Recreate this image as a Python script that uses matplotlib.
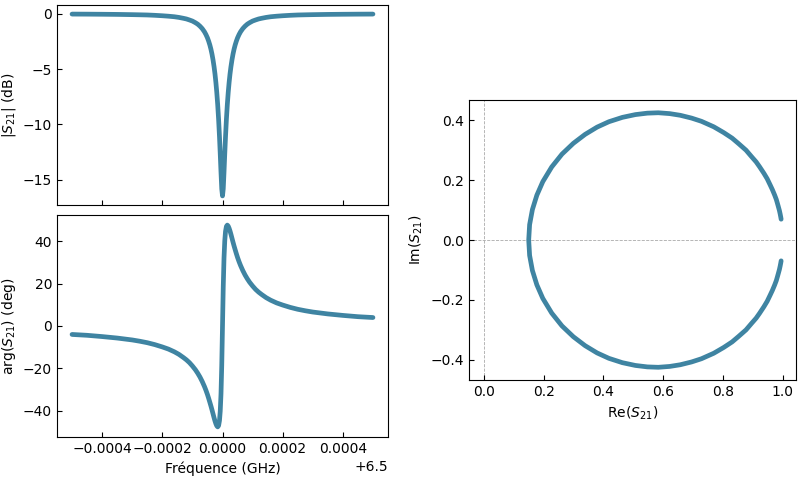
import numpy as np
import matplotlib
matplotlib.use("Agg")
import matplotlib.pyplot as plt

# Frequency offsets from 6.5 GHz, in kHz
offset_khz = [-500, -450, -400, -350, -300, -275, -250, -225, -200, -180, -160,
              -145, -130, -120, -110, -100, -90, -82.5, -75, -67.5, -60, -55, -50,
              -46, -42, -38.5, -35, -31.5, -28, -25, -22, -19, -16, -13, -10,
              -7.5, -5, -2.5,
              0,
              2.5, 5, 7.5, 10, 13, 16, 19, 22, 25, 28, 31.5, 35, 38.5, 42, 46,
              50, 55, 60, 67.5, 75, 82.5, 90, 100, 110, 120, 130, 145, 160, 180,
              200, 225, 250, 275, 300, 350, 400, 450, 500]

# |S21| in dB
mag_db = [-0.029, -0.035, -0.045, -0.058, -0.08, -0.094, -0.11, -0.14, -0.18,
          -0.22, -0.27, -0.33, -0.41, -0.47, -0.56, -0.66, -0.81, -0.94, -1.12,
          -1.34, -1.63, -1.88, -2.18, -2.48, -2.83, -3.20, -3.64, -4.17, -4.80,
          -5.44, -6.21, -7.12, -8.22, -9.54, -11.14, -12.69, -14.35, -15.84,
          -16.48,
          -15.84, -14.35, -12.69, -11.14, -9.54, -8.22, -7.12, -6.21, -5.44,
          -4.80, -4.17, -3.64, -3.20, -2.83, -2.48, -2.18, -1.88, -1.63, -1.34,
          -1.12, -0.94, -0.81, -0.66, -0.56, -0.47, -0.41, -0.33, -0.27, -0.22,
          -0.18, -0.14, -0.11, -0.094, -0.08, -0.058, -0.045, -0.035, -0.029]

# arg(S21) in degrees
phase_deg = [-4.0, -4.4, -5.0, -5.7, -6.6, -7.2, -7.9, -8.8, -9.9, -10.9, -12.2,
             -13.4, -14.9, -16.0, -17.3, -18.9, -20.7, -22.3, -24.1, -26.2,
             -28.6, -30.4, -32.4, -34.2, -36.1, -37.8, -39.6, -41.5, -43.4,
             -44.9, -46.2, -47.2, -47.7, -47.1, -44.7, -40.2, -32.1, -18.6,
             0.0,
             18.6, 32.1, 40.2, 44.7, 47.1, 47.7, 47.2, 46.2, 44.9, 43.4, 41.5,
             39.6, 37.8, 36.1, 34.2, 32.4, 30.4, 28.6, 26.2, 24.1, 22.3, 20.7,
             18.9, 17.3, 16.0, 14.9, 13.4, 12.2, 10.9, 9.9, 8.8, 7.9, 7.2, 6.6,
             5.7, 5.0, 4.4, 4.0]

f0_ghz = 6.5
freq_ghz = f0_ghz + np.array(offset_khz) * 1e-6

# Complex S21 from the magnitude / phase read above (polar -> cartesian)
amp = 10 ** (np.array(mag_db) / 20.0)
ang = np.deg2rad(phase_deg)
re_s21 = amp * np.cos(ang)
im_s21 = amp * np.sin(ang)

color = '#3f84a2'
lw = 3.4

fig = plt.figure(figsize=(8, 4.8), dpi=100)
ax1 = fig.add_axes([0.07125, 0.5729, 0.41375, 0.4167])
ax2 = fig.add_axes([0.07125, 0.0896, 0.41375, 0.4625], sharex=ax1)
ax3 = fig.add_axes([0.58625, 0.2083, 0.40875, 0.5833])

kw = dict(color=color, lw=lw, solid_capstyle='round', solid_joinstyle='round')
ax1.plot(freq_ghz, mag_db, **kw)
ax2.plot(freq_ghz, phase_deg, **kw)
ax3.plot(re_s21, im_s21, **kw)

ax3.axhline(0, color='#aaaaaa', lw=0.6, ls='--', zorder=0)
ax3.axvline(0, color='#aaaaaa', lw=0.6, ls='--', zorder=0)

ax1.set_ylabel('$|S_{21}|$ (dB)')
ax2.set_ylabel('arg$(S_{21})$ (deg)')
ax2.set_xlabel('Fréquence (GHz)')
ax3.set_xlabel('Re$(S_{21})$')
ax3.set_ylabel('Im$(S_{21})$')

ax1.set_yticks([0, -5, -10, -15])
ax2.set_yticks([-40, -20, 0, 20, 40])
ax3.set_xticks([0.0, 0.2, 0.4, 0.6, 0.8, 1.0])
ax3.set_yticks([-0.4, -0.2, 0.0, 0.2, 0.4])
plt.setp(ax1.get_xticklabels(), visible=False)
ax1.xaxis.get_offset_text().set_visible(False)

for ax in (ax1, ax2, ax3):
    ax.tick_params(direction='in')

ax1.yaxis.set_label_coords(-0.118, 0.5)
ax2.yaxis.set_label_coords(-0.118, 0.5)

fig.savefig('out.png', dpi=100)
